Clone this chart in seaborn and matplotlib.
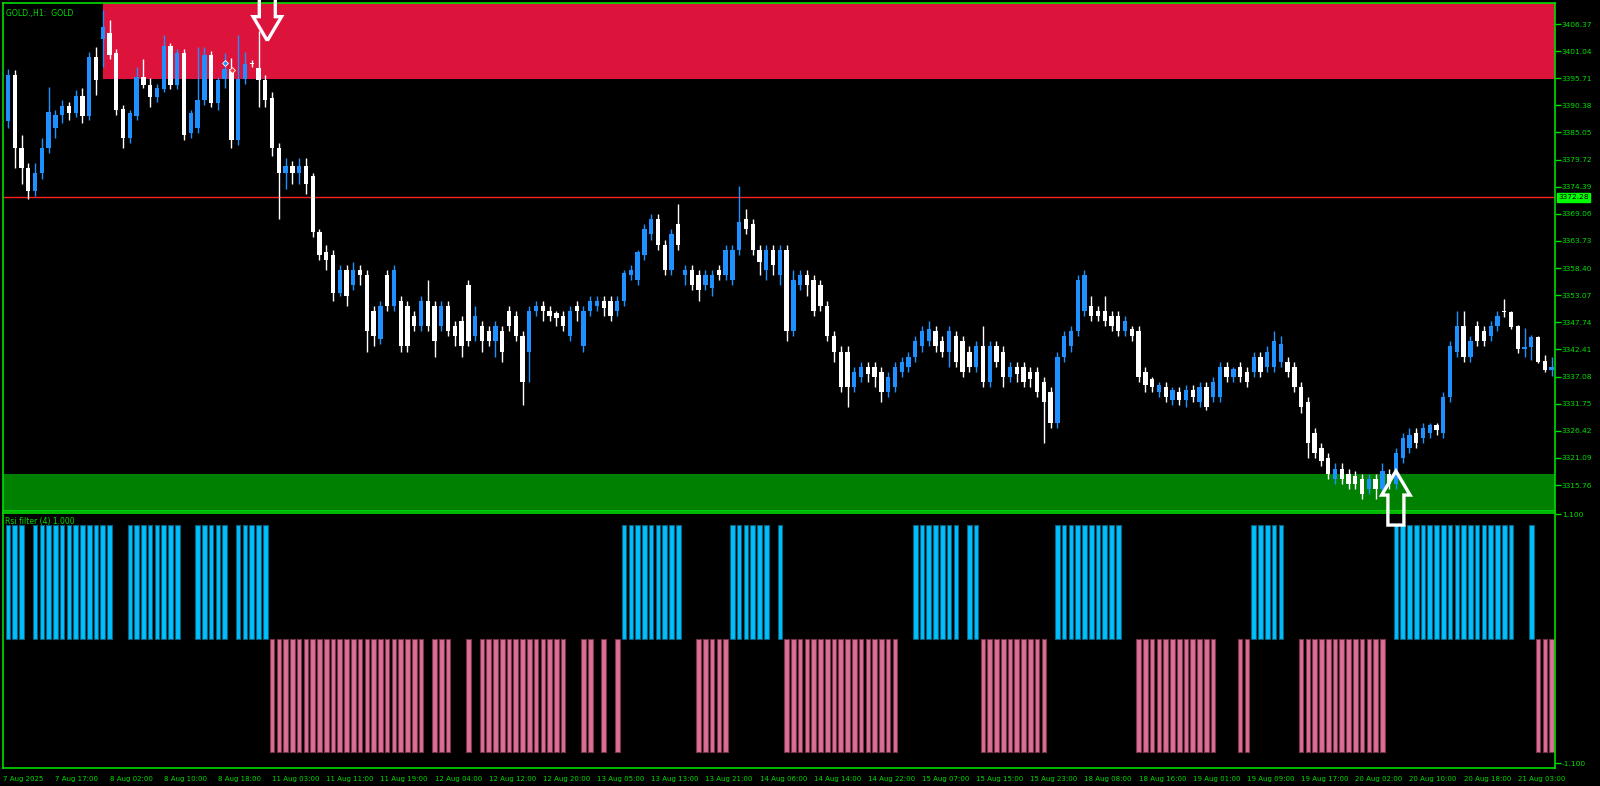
import numpy as np
import pandas as pd
import matplotlib
matplotlib.use("Agg")
import matplotlib.pyplot as plt
from matplotlib.patches import Polygon, Rectangle
import seaborn as sns

# ---------------- data (H1 bars, left to right) ----------------
opens = [3387.4, 3396.3, 3382.0, 3378.0, 3373.5, 3377.0, 3382.0, 3386.0, 3388.5, 3390.3,
         3388.8, 3392.2, 3388.2, 3399.8, 3403.4, 3404.7, 3400.6, 3389.6, 3384.0, 3388.3,
         3395.9, 3394.4, 3392.1, 3393.5, 3402.0, 3394.4, 3400.7, 3385.0, 3386.0, 3391.4,
         3400.3, 3390.8, 3395.5, 3397.5, 3383.5, 3395.5, 3398.7, 3397.7, 3395.4, 3391.8,
         3382, 3377, 3378.5, 3377, 3378.5, 3376.5, 3365.5, 3361.5, 3361, 3353.5,
         3358, 3355, 3358, 3357, 3350, 3344.5, 3357, 3351, 3352, 3351,
         3349, 3347, 3352, 3351, 3347, 3351, 3347, 3348, 3355, 3345,
         3347, 3346, 3344, 3346, 3350, 3349, 3345, 3342, 3350, 3351,
         3350, 3349.5, 3349, 3345, 3351, 3343, 3350, 3351, 3352, 3352,
         3350, 3352, 3357, 3356, 3361, 3365, 3368, 3363, 3358, 3367,
         3357, 3358, 3357, 3355, 3354.5, 3358, 3357, 3356, 3362, 3368,
         3367, 3362, 3358, 3362, 3357, 3362, 3346, 3355, 3357, 3356,
         3355, 3351, 3345, 3342, 3342, 3335, 3337, 3339, 3339, 3338,
         3334, 3335, 3338, 3339, 3341, 3343, 3344, 3346, 3344, 3342,
         3345, 3344, 3342, 3339, 3343, 3336, 3343, 3342, 3337, 3339,
         3339, 3338, 3338, 3336, 3334, 3328, 3341, 3343, 3346, 3350,
         3351, 3350, 3350, 3349, 3349, 3346, 3346.5, 3346, 3338, 3336.5,
         3334, 3335, 3332.5, 3334, 3332.5, 3334.5, 3332, 3335, 3333, 3333,
         3339, 3337, 3339, 3338, 3338, 3341, 3339, 3339, 3340, 3340,
         3339, 3335, 3332, 3326, 3323, 3321, 3317, 3319, 3318, 3317.5,
         3317, 3315, 3317, 3315, 3318, 3316, 3321, 3323, 3326, 3325,
         3326, 3327.5, 3326, 3333, 3342, 3347, 3341, 3347, 3346, 3345,
         3347, 3349.96, 3349.7, 3347.0, 3342.5, 3342.8, 3344.8, 3340.1, 3338.4]
highs = [3397.5, 3397.3, 3384.5, 3379.0, 3379.0, 3384.0, 3394.0, 3389.5, 3391.5, 3391.0,
         3393.4, 3393.7, 3400.9, 3401.9, 3409.1, 3407.2, 3401.5, 3390.5, 3389.5, 3398.0,
         3399.4, 3395.7, 3394.5, 3404.2, 3402.7, 3401.5, 3401.5, 3389.5, 3401.9, 3401.9,
         3401.1, 3396.0, 3400.6, 3399.6, 3404.2, 3400.9, 3399.3, 3404.9, 3396.3, 3393.0,
         3383, 3380, 3379.5, 3380, 3380, 3377, 3366, 3363, 3362, 3359,
         3359, 3359.5, 3359, 3358, 3351, 3352, 3358, 3359, 3353, 3352,
         3350, 3353, 3356, 3352, 3352, 3352, 3348, 3349, 3356, 3351,
         3348, 3347, 3348, 3347, 3351, 3350, 3346, 3351, 3352, 3352,
         3351, 3350, 3350, 3351, 3352, 3351, 3353, 3353, 3353, 3353,
         3353, 3358, 3359, 3362, 3367, 3369, 3369, 3364, 3366, 3371,
         3359, 3359, 3358, 3358, 3358, 3359, 3363, 3363, 3374.5, 3370,
         3368, 3363, 3363, 3363, 3363, 3363, 3358, 3358, 3358, 3357,
         3356, 3352, 3346, 3343, 3343, 3339, 3340, 3340, 3340, 3339,
         3338, 3340, 3341, 3342, 3345, 3347, 3348, 3347, 3345, 3347,
         3346, 3345, 3343, 3344, 3347, 3344, 3344, 3343, 3340, 3340,
         3340, 3339, 3339, 3337, 3335, 3342, 3346, 3347, 3357, 3358,
         3353, 3351, 3353, 3350, 3350, 3349, 3347, 3347, 3339, 3337,
         3336, 3336, 3335, 3335, 3335.5, 3335.5, 3336, 3336, 3337, 3340,
         3340, 3339, 3340, 3339, 3342, 3342, 3343, 3346, 3345, 3341,
         3340, 3336, 3333, 3327, 3324, 3322, 3320, 3320, 3319, 3318.5,
         3318, 3318, 3318, 3320, 3319, 3323, 3326, 3327, 3327, 3328,
         3328, 3328, 3334, 3344, 3350, 3350, 3345, 3348, 3347, 3348,
         3350, 3352.4, 3350.0, 3347.3, 3346.6, 3345.2, 3345.0, 3341.3, 3340.9]
lows = [3386.0, 3378.0, 3375.0, 3372.0, 3372.5, 3376.0, 3381.0, 3384.0, 3387.0, 3387.5,
        3388.0, 3387.0, 3387.5, 3392.4, 3398.0, 3399.5, 3388.5, 3382.0, 3383.0, 3387.5,
        3393.7, 3390.1, 3391.0, 3393.0, 3393.5, 3393.5, 3383.5, 3384.0, 3385.0, 3390.5,
        3390.0, 3389.5, 3393.7, 3382.0, 3382.5, 3394.5, 3398.0, 3390.1, 3390.1, 3380.5,
        3368, 3374, 3375, 3375, 3373, 3364.5, 3360, 3358, 3352, 3353,
        3351, 3354, 3355, 3342, 3343, 3343.5, 3350, 3350, 3342, 3342,
        3346, 3346, 3346, 3341, 3346, 3345, 3343, 3341, 3343, 3344,
        3342, 3343, 3341, 3340, 3346, 3344, 3331.5, 3336, 3349, 3348,
        3348, 3347, 3346, 3344, 3348, 3342, 3349, 3350, 3349, 3348,
        3349, 3351, 3356, 3355, 3360, 3364, 3362, 3357, 3357, 3362,
        3355, 3354, 3352, 3354, 3353, 3356, 3356, 3355, 3361, 3365,
        3361, 3357, 3356, 3357, 3355, 3344, 3345, 3354, 3353, 3349,
        3350, 3344, 3340, 3334, 3331, 3334, 3336, 3336, 3335, 3332,
        3333, 3334, 3337, 3338, 3340, 3342, 3343, 3342, 3341, 3339,
        3339, 3337, 3338, 3338, 3335, 3335, 3339, 3335, 3336, 3336,
        3335, 3335, 3333, 3324, 3327, 3327, 3340, 3342, 3345, 3349,
        3348, 3348, 3347, 3346, 3345, 3345, 3344, 3336, 3334, 3334,
        3333, 3332, 3331.5, 3331.5, 3331, 3332, 3331, 3330.5, 3332, 3332,
        3336, 3336, 3336, 3335, 3337, 3337, 3338, 3338, 3339, 3337,
        3334, 3330, 3321, 3321, 3319.5, 3317, 3316, 3316, 3315, 3315,
        3313, 3314, 3313, 3314, 3315, 3315, 3320, 3322, 3323, 3324,
        3325, 3325.5, 3325, 3332, 3341, 3340, 3340, 3343, 3343, 3344,
        3346, 3348.8, 3346.4, 3341.8, 3340.9, 3340.3, 3339.8, 3338.0, 3337.2]
closes = [3396.3, 3382.0, 3378.0, 3373.5, 3377.0, 3382.0, 3389.0, 3388.5, 3390.3, 3388.8,
          3392.2, 3388.2, 3399.8, 3395.4, 3405.7, 3400.3, 3389.5, 3384.0, 3388.8, 3395.9,
          3394.4, 3392.1, 3393.7, 3402.0, 3394.4, 3400.7, 3384.5, 3388.8, 3391.4, 3400.3,
          3390.8, 3395.4, 3397.5, 3383.5, 3395.5, 3398.6, 3398.6, 3395.4, 3391.4, 3382.0,
          3377, 3378.5, 3377, 3378.5, 3375, 3365.5, 3361, 3360, 3353.5, 3358,
          3353, 3358, 3357, 3346, 3345, 3351, 3351, 3358, 3343, 3343,
          3347, 3352, 3347, 3344, 3351, 3346, 3345, 3343, 3344, 3349,
          3344, 3344, 3347, 3342, 3347, 3345, 3336, 3350, 3351, 3350,
          3349, 3348.5, 3347, 3350, 3350, 3350, 3352, 3352, 3350.5, 3349,
          3352, 3357.5, 3358, 3361.5, 3366, 3368, 3363, 3358, 3365, 3363,
          3358, 3355, 3354, 3357, 3357, 3357, 3362, 3362, 3367.5, 3366,
          3362, 3359.5, 3362, 3359, 3362, 3346, 3356, 3357, 3355, 3350,
          3351, 3345, 3342, 3335, 3335, 3338, 3339, 3337.5, 3337, 3334,
          3337, 3339, 3340, 3341, 3344, 3346, 3346.5, 3343, 3342, 3346,
          3340, 3338, 3339, 3343, 3336, 3343, 3340, 3337, 3339, 3337.5,
          3336, 3336.5, 3334, 3332, 3328, 3341, 3345, 3346, 3356, 3357,
          3349, 3349, 3348, 3347, 3346, 3348, 3345, 3337, 3335.5, 3335,
          3335.5, 3333, 3334.5, 3332.5, 3334.5, 3333, 3335, 3331, 3336, 3339,
          3337, 3338.5, 3337, 3336, 3341, 3338, 3342, 3344, 3343.5, 3338,
          3335, 3331, 3324, 3322, 3320.5, 3318, 3319, 3317, 3316, 3316,
          3314, 3317, 3315, 3318.5, 3316, 3322, 3325, 3325.5, 3324, 3327,
          3327.5, 3326.5, 3333, 3343, 3347, 3341, 3344, 3344, 3344, 3347,
          3349, 3349.7, 3346.9, 3342.4, 3342.9, 3344.8, 3340.0, 3338.4, 3339.0]

# RSI filter state per bar: 1 = up (blue), -1 = down (pink), 0 = none  (value, run length)
rsi_runs = [(1, 3), (0, 1), (1, 12), (0, 2), (1, 8), (0, 2), (1, 5), (0, 1), (1, 5),
            (-1, 23), (0, 1), (-1, 3), (0, 2), (-1, 1), (0, 1), (-1, 13), (0, 2), (-1, 2), (0, 1),
            (-1, 1), (0, 1), (-1, 1), (1, 9), (0, 2), (-1, 5), (1, 6), (0, 1), (1, 1), (-1, 17),
            (0, 2), (1, 7), (0, 1), (1, 2), (-1, 10), (0, 1), (1, 10), (0, 2), (-1, 12), (0, 3),
            (-1, 2), (1, 5), (0, 2), (-1, 13), (0, 1), (1, 18), (0, 2), (1, 1), (-1, 3)]
rsi_state = [s for s, k in rsi_runs for _ in range(k)]

price_ticks = [3406.37, 3401.04, 3395.71, 3390.38, 3385.05, 3379.72, 3374.39, 3369.06, 3363.73,
               3358.40, 3353.07, 3347.74, 3342.41, 3337.08, 3331.75, 3326.42, 3321.09, 3315.76]
time_labels = ["7 Aug 17:00", "8 Aug 02:00", "8 Aug 10:00", "8 Aug 18:00", "11 Aug 03:00",
               "11 Aug 11:00", "11 Aug 19:00", "12 Aug 04:00", "12 Aug 12:00", "12 Aug 20:00",
               "13 Aug 05:00", "13 Aug 13:00", "13 Aug 21:00", "14 Aug 06:00", "14 Aug 14:00",
               "14 Aug 22:00", "15 Aug 07:00", "15 Aug 15:00", "15 Aug 23:00", "18 Aug 08:00",
               "18 Aug 16:00", "19 Aug 01:00", "19 Aug 09:00", "19 Aug 17:00", "20 Aug 02:00",
               "20 Aug 10:00", "20 Aug 18:00", "21 Aug 03:00"]
time_label_bars = [7, 15, 23, 31, 39, 47, 55, 63, 71, 79, 87, 95, 103, 111, 119, 127, 135, 143,
                   151, 159, 167, 175, 183, 191, 199, 207, 215, 223]

supply_zone = (14, 3395.65)       # start bar, lower price (extends to top)
demand_zone = (-5, 3317.92)       # start bar, upper price (extends to bottom)
last_price = 3372.28
sell_arrow = (38.3, 3403.1)
buy_arrow = (205.0, 3318.5)
trade_marks = [(32.05, 3398.7, "#1E90FF"), (33.1, 3397.3, "#FF3030")]

# ---------------- style ----------------
GREEN = "#00DD00"
BULL = "#1E90FF"
BEAR = "#FFFFFF"

sns.set_theme(style="dark")
plt.rcParams["font.family"] = ["DejaVu Sans"]

W, H = 1600, 786
fig = plt.figure(figsize=(W / 100, H / 100), dpi=100, facecolor="black")


def fx(p):
    return p / W


def fy(p):
    return 1 - p / H


ax = fig.add_axes([fx(3), fy(511), fx(1555) - fx(3), fy(2.7) - fy(511)])
ax2 = fig.add_axes([fx(3), fy(768), fx(1555) - fx(3), fy(513) - fy(768)])

for a in (ax, ax2):
    a.set_facecolor("black")
    for s in a.spines.values():
        s.set_color(GREEN)
        s.set_linewidth(1.2)
    a.grid(False)

XL = (-0.74, 228.5)
ax.set_xlim(*XL)
ax.set_ylim(3310.65, 3410.56)

n = len(closes)
idx = np.arange(n)
o = np.array(opens, float)
c = np.array(closes, float)
h = np.array(highs, float)
l = np.array(lows, float)
bull = c > o
cols = np.where(bull, BULL, BEAR)

# zones
ax.add_patch(Rectangle((supply_zone[0], supply_zone[1]), 1000, 100, facecolor="#DC143C",
                       edgecolor="none", zorder=0))
ax.add_patch(Rectangle((demand_zone[0], 3200), 1000, demand_zone[1] - 3200, facecolor="#008000",
                       edgecolor="none", zorder=0))
ax.axhline(last_price, color="#FF2020", lw=1, zorder=1)

# candles
ax.vlines(idx, l, h, colors=cols, lw=1, zorder=2)
body_h = np.maximum(np.abs(c - o), 0.2)
ax.bar(idx, body_h, bottom=np.minimum(o, c), width=0.64, color=cols, edgecolor="none", zorder=3)

# axis ticks
ax.yaxis.tick_right()
ax.set_yticks(price_ticks)
ax.set_yticklabels([f"{v:.2f}" for v in price_ticks])
ax.tick_params(axis="y", colors=GREEN, labelcolor=GREEN, labelsize=5.4, length=4, width=1,
               direction="out", pad=1)
ax.set_xticks([])
ax.text(1.002, last_price, f"{last_price:.2f}", transform=ax.get_yaxis_transform(),
        ha="left", va="center", fontsize=5.4, color="black",
        bbox=dict(boxstyle="square,pad=0.2", facecolor="#00FF00", edgecolor="#00FF00"), zorder=10,
        clip_on=False)

ax.text(0.002, 0.988, "GOLD.,H1:  GOLD", transform=ax.transAxes, color=GREEN, fontsize=5.6,
        ha="left", va="top")

fig.canvas.draw()


def draw_arrow(xy, down):
    px, py = ax.transData.transform(xy)
    hw, sw, hl, tot = 14.2, 8.0, 24.0, 54.0
    sgn = 1 if down else -1
    shape = [(0, 0), (hw, hl), (sw, hl), (sw, tot), (-sw, tot), (-sw, hl), (-hw, hl)]
    verts = [(px + vx, py + sgn * vy) for vx, vy in shape]
    poly = Polygon(verts, closed=True, transform=None, facecolor="none", edgecolor="white",
                   lw=2.4, zorder=20, clip_on=False, joinstyle="miter")
    fig.add_artist(poly)


draw_arrow(sell_arrow, True)
draw_arrow(buy_arrow, False)

for mx, my, mc in trade_marks:
    ax.plot([mx], [my], marker="D", ms=3, color=mc, mec="white", mew=0.6, zorder=6)

# indicator
df = pd.DataFrame({"bar": idx, "val": rsi_state})
up = df[df.val > 0]
dn = df[df.val < 0]
sns.barplot(data=up, x="bar", y="val", native_scale=True, width=0.68, color="#00BFFF",
            edgecolor="#0B5F7A", linewidth=0.8, errorbar=None, saturation=1, ax=ax2)
sns.barplot(data=dn, x="bar", y="val", native_scale=True, width=0.68, color="#DB7093",
            edgecolor="#7A3350", linewidth=0.8, errorbar=None, saturation=1, ax=ax2)
ax2.set_xlim(*XL)
ax2.set_ylim(-1.144, 1.109)
ax2.set_xlabel("")
ax2.set_ylabel("")
ax2.yaxis.tick_right()
ax2.set_yticks([1.1, -1.1])
ax2.set_yticklabels(["1.100", "-1.100"])
ax2.tick_params(axis="y", colors=GREEN, labelcolor=GREEN, labelsize=5.4, length=4, width=1,
                direction="out", pad=1)
ax2.set_xticks([XL[0] + 0.05] + time_label_bars)
ax2.set_xticklabels(["7 Aug 2025"] + time_labels)
ax2.tick_params(axis="x", colors=GREEN, labelcolor=GREEN, labelsize=5.05, length=4, width=1,
                direction="out", pad=1.5)
for t in ax2.get_xticklabels():
    t.set_ha("left")
ax2.text(0.001, 0.985, "Rsi filter (4) 1.000", transform=ax2.transAxes, color=GREEN, fontsize=5.5,
         ha="left", va="top")

fig.savefig("out.png", dpi=100, facecolor="black")
